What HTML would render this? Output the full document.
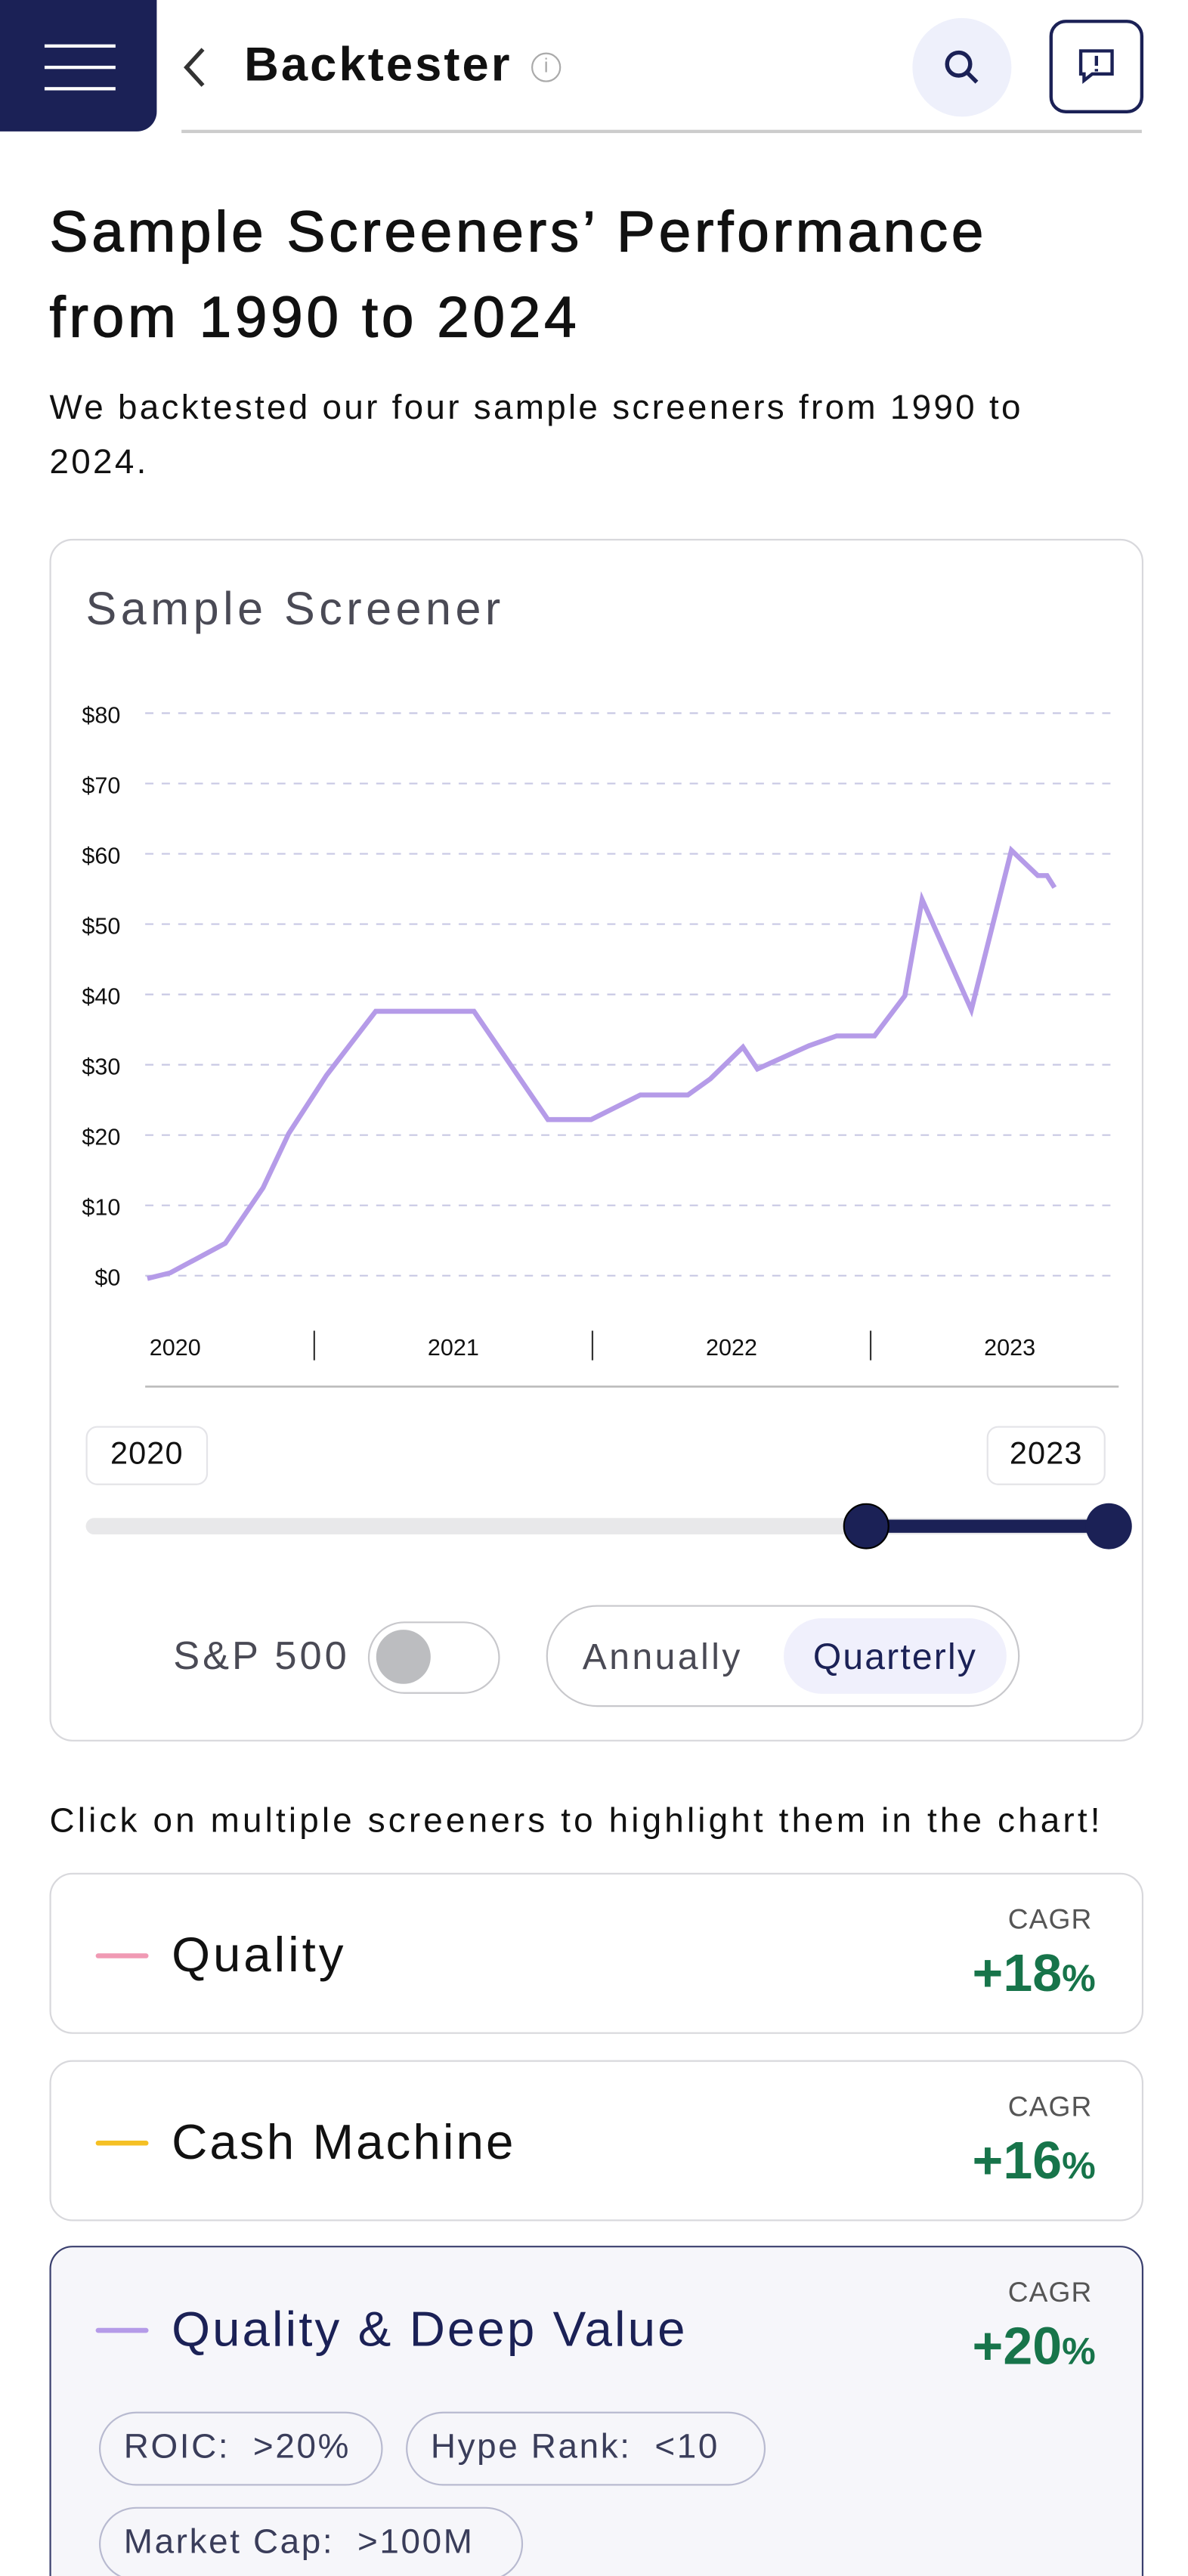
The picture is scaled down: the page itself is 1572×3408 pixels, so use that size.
<!DOCTYPE html>
<html><head><meta charset="utf-8">
<style>
*{box-sizing:border-box;margin:0;padding:0}
html,body{width:1572px;height:3408px;overflow:hidden;background:#fff}
#root{transform:scale(2.18333,2.17347);transform-origin:0 0;width:720px;height:1568px;position:relative;font-family:"Liberation Sans",sans-serif;color:#111;letter-spacing:1.5px}
.abs{position:absolute}
.card{position:absolute;left:30px;width:663px;border:1.5px solid #d8d8dc;border-radius:14px;background:#fff}
.dash{position:absolute;left:27px;width:32px;height:3px;border-radius:2px}
.cname{position:absolute;left:73px;font-size:30px}
.cagr{position:absolute;right:30px;font-size:17px;color:#555;letter-spacing:.5px}
.pct{position:absolute;right:28px;font-size:32px;font-weight:bold;color:#17744a;letter-spacing:0}
.pct small{font-size:23px}
.chip{position:absolute;height:45px;border:1.5px solid #b8bad0;border-radius:23px;font-size:21px;color:#3a3d5a;line-height:42px;padding:0 14px;white-space:pre;letter-spacing:1.2px}
</style></head><body>
<div id="root">
<div class="abs" style="left:0;top:0;width:95px;height:80px;background:#1b2156;border-radius:0 0 12px 0">
 <div class="abs" style="left:27px;top:27px;width:43px;height:2px;background:#fff"></div>
 <div class="abs" style="left:27px;top:40px;width:43px;height:2px;background:#fff"></div>
 <div class="abs" style="left:27px;top:53px;width:43px;height:2px;background:#fff"></div>
</div>
<svg class="abs" style="left:108px;top:28px" width="20" height="26"><path d="M15 2 L5 13 L15 24" stroke="#333" stroke-width="2.5" fill="none"/></svg>
<div class="abs" style="left:148px;top:24px;font-size:29px;font-weight:bold;letter-spacing:1.4px">Backtester</div>
<div class="abs" style="left:322px;top:32px;width:18px;height:18px;border:1.5px solid #aaa;border-radius:50%;color:#aaa;font-size:12px;text-align:center;line-height:15px;letter-spacing:0">i</div>
<div class="abs" style="left:553px;top:11px;width:60px;height:60px;border-radius:50%;background:#eef0fb">
 <svg width="60" height="60"><circle cx="28" cy="28" r="7" stroke="#1b2156" stroke-width="2.5" fill="none"/><path d="M33 33 L39 39" stroke="#1b2156" stroke-width="2.5"/></svg></div>
<div class="abs" style="left:636px;top:12px;width:57px;height:57px;border:2px solid #1b2156;border-radius:10px">
 <svg width="53" height="53"><path d="M17 17 h19 v14 h-12 l-5 4 v-4 h-2z" stroke="#1b2156" stroke-width="2" fill="none"/><path d="M26.5 20v6M26.5 28v1.5" stroke="#1b2156" stroke-width="2"/></svg></div>
<div class="abs" style="left:110px;top:79px;width:582px;height:1.5px;background:#ccc"></div>

<div class="abs" style="left:30px;top:116px;font-size:35px;line-height:52px;width:625px;letter-spacing:2.2px;-webkit-text-stroke:0.6px #111">Sample Screeners’ Performance from 1990 to 2024</div>
<div class="abs" style="left:30px;top:232px;font-size:21px;line-height:33px;width:640px;letter-spacing:1.5px">We backtested our four sample screeners from 1990 to 2024.</div>

<div class="card" style="top:328px;height:732px"></div>
<div class="abs" style="left:52px;top:355px;font-size:28px;color:#4a4a55;letter-spacing:2.5px">Sample Screener</div>
<svg id="chart" class="abs" style="left:0;top:0;letter-spacing:0" width="720" height="870"></svg>

<div class="abs" style="left:52px;top:868px;width:74px;height:36px;border:1.5px solid #e4e4e8;border-radius:7px;font-size:19px;text-align:center;line-height:34px;letter-spacing:0.5px">2020</div>
<div class="abs" style="left:598px;top:868px;width:72px;height:36px;border:1.5px solid #e4e4e8;border-radius:7px;font-size:19px;text-align:center;line-height:34px;letter-spacing:0.5px">2023</div>
<div class="abs" style="left:52px;top:924px;width:628px;height:10px;background:#e8e8ea;border-radius:5px"></div>
<div class="abs" style="left:525px;top:925px;width:147px;height:8px;background:#1b2156"></div>
<div class="abs" style="left:511px;top:915px;width:28px;height:28px;border-radius:50%;background:#1b2156;border:1px solid #000"></div>
<div class="abs" style="left:658px;top:915px;width:28px;height:28px;border-radius:50%;background:#1b2156"></div>

<div class="abs" style="left:105px;top:995px;font-size:24px;color:#4a4a55;letter-spacing:1.8px">S&amp;P 500</div>
<div class="abs" style="left:223px;top:987px;width:80px;height:44px;border:1.5px solid #c8c8cc;border-radius:22px">
 <div class="abs" style="left:4px;top:4px;width:33px;height:33px;border-radius:50%;background:#bcbdc0"></div></div>
<div class="abs" style="left:331px;top:977px;width:287px;height:62px;border:1.5px solid #c8c8cc;border-radius:31px"></div>
<div class="abs" style="left:353px;top:996px;font-size:22px;color:#4a4a55;letter-spacing:1.6px">Annually</div>
<div class="abs" style="left:475px;top:985px;width:135px;height:46px;border-radius:23px;background:#f0f0fc;color:#1b2156;font-size:22px;text-align:center;line-height:48px;letter-spacing:1px">Quarterly</div>

<div class="abs" style="left:30px;top:1097px;font-size:21px;letter-spacing:1.9px;white-space:nowrap">Click on multiple screeners to highlight them in the chart!</div>

<div class="card" style="top:1140px;height:98px">
 <div class="dash" style="top:48px;background:#f09ab4"></div>
 <div class="cname" style="top:33px;letter-spacing:1.8px">Quality</div>
 <div class="cagr" style="top:18px">CAGR</div>
 <div class="pct" style="top:42px">+18<small>%</small></div>
</div>
<div class="card" style="top:1254px;height:98px">
 <div class="dash" style="top:48px;background:#f5c024"></div>
 <div class="cname" style="top:33px;letter-spacing:1.4px">Cash Machine</div>
 <div class="cagr" style="top:18px">CAGR</div>
 <div class="pct" style="top:42px">+16<small>%</small></div>
</div>
<div class="card" style="top:1367px;height:240px;border-color:#3a3f6e;background:#f6f6fa">
 <div class="dash" style="top:49px;background:#b59be8"></div>
 <div class="cname" style="top:34px;color:#1b2156;letter-spacing:1.4px">Quality &amp; Deep Value</div>
 <div class="cagr" style="top:18px">CAGR</div>
 <div class="pct" style="top:42px">+20<small>%</small></div>
 <div class="chip" style="left:29px;top:100px;width:172px">ROIC:  &gt;20%</div>
 <div class="chip" style="left:215px;top:100px;width:218px">Hype Rank:  &lt;10</div>
 <div class="chip" style="left:29px;top:158px;width:257px">Market Cap:  &gt;100M</div>
</div>
</div>
<script>
const times=[2020,2020.082,2020.28,2020.416,2020.508,2020.644,2020.821,2021.174,2021.44,2021.595,2021.772,2021.943,2022.024,2022.141,2022.193,2022.378,2022.478,2022.614,2022.723,2022.785,2022.962,2023.106,2023.201,2023.234,2023.261];
const values=[-0.4,0.4,4.6,12.5,20.2,28.5,37.6,37.6,22.2,22.2,25.7,25.7,28,32.5,29.4,32.7,34.1,34.1,39.8,53.5,37.8,60.5,56.9,56.9,55.2];
const yTicks=[0,10,20,30,40,50,60,70,80];
const yearLabels=[2020,2021,2022,2023];
const svg=document.getElementById('chart');
const NS='http://www.w3.org/2000/svg';
function x(t){return 89.3+(t-2020)*168.6;}
function y(v){return 776.5-v*4.28;}
function mk(tag,attrs){const e=document.createElementNS(NS,tag);for(const k in attrs)e.setAttribute(k,attrs[k]);svg.appendChild(e);return e;}
yTicks.forEach(v=>{
 const g=mk('line',{x1:88,x2:678,y1:y(v),y2:y(v),stroke:'#c8c8e4','stroke-width':1,'stroke-dasharray':'5,5'});
 
 
 const t=mk('text',{x:73,y:y(v)+6,'text-anchor':'end','font-size':14,'font-family':'Liberation Sans, sans-serif',fill:'#111'});
 t.textContent='$'+v;
 
 
});
yearLabels.forEach((yr,i)=>{
 const t=mk('text',{x:x(yr+0.1),y:825,'text-anchor':'middle','font-size':14,'font-family':'Liberation Sans, sans-serif',fill:'#111'});
 t.textContent=yr;
 
 
 if(i>0){const d=mk('line',{x1:x(yr-0.4),x2:x(yr-0.4),y1:810,y2:828,stroke:'#333','stroke-width':1});
 
 }
});
const ax=mk('line',{x1:88,x2:678,y1:844,y2:844,stroke:'#bbb','stroke-width':1.2});


const p=mk('polyline',{points:times.map((t,i)=>x(t)+','+y(values[i])).join(' '),fill:'none',stroke:'#b59be8','stroke-width':3,'stroke-linejoin':'miter'});


</script>
</body></html>
